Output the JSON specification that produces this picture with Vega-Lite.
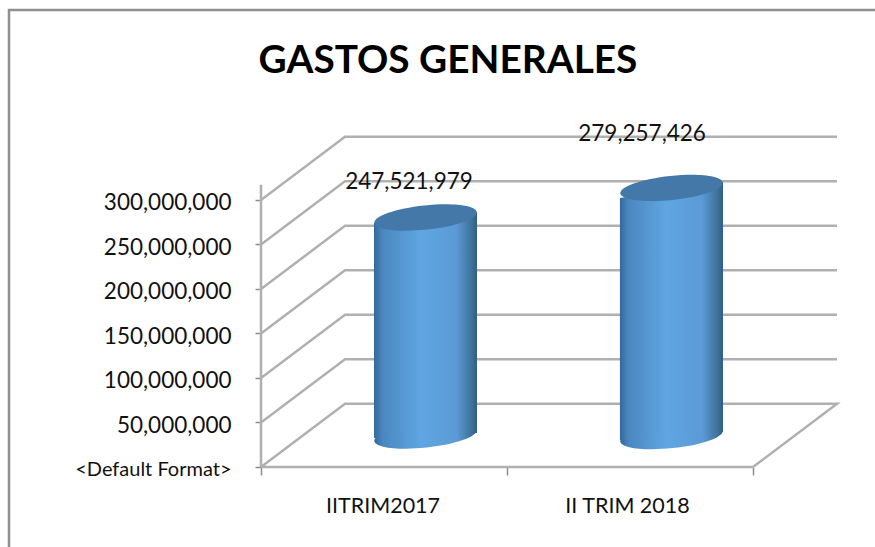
{
"$schema":"https://vega.github.io/schema/vega-lite/v6.json",
"width":866,"height":537,
"autosize":{"type":"none"},
"padding":{"left":9,"top":10,"right":0,"bottom":0},
"background":"white",
"view":{"stroke":null},
"config":{"font":"Lato"},
"title":{"text":"GASTOS GENERALES","font":"Lato","fontSize":38.8,"fontWeight":"bold","color":"#000000","anchor":"middle","frame":"group","dx":6,"offset":-76},
"encoding":{
"x":{"field":"pos","type":"quantitative","scale":{"domain":[-1.02439,2.49593],"nice":false,"zero":false},"axis":{"title":null,"values":[0,1,2],"labels":false,"domain":false,"grid":false,"orient":"bottom","offset":-80,"tickSize":8,"tickColor":"#8c8c8c","tickWidth":1.5}},
"y":{"field":"amount","type":"quantitative","scale":{"domain":[-89888000,513483000],"nice":false,"zero":false},"axis":{"title":null,"values":[0,50000000,100000000,150000000,200000000,250000000,300000000],"labelExpr":"datum.value===0?'<Default Format>':format(datum.value,',d')","domain":false,"grid":false,"orient":"left","offset":-252,"tickSize":6,"tickColor":"#8c8c8c","tickWidth":1.5,"labelPadding":24,"labelFont":"Lato","labelFontSize":{"condition":{"test":"datum.value===0","value":20},"value":22.5},"labelOffset":3,"labelColor":"#111111"}}
},
"layer":[
{"data":{"values":[
{"line":"border","seq":1,"pos":-1.02439,"amount":-89888000},{"line":"border","seq":2,"pos":-1.02439,"amount":513483000},{"line":"border","seq":3,"pos":2.49593,"amount":513483000}
]},"mark":{"type":"line","color":"#8f8f8f","strokeWidth":2.5},"encoding":{"detail":{"field":"line"},"order":{"field":"seq"}}},
{"data":{"values":[
{"line":"g0","seq":1,"pos":0,"amount":0},{"line":"g0","seq":2,"pos":0.3415,"amount":71000000},{"line":"g0","seq":3,"pos":2.3415,"amount":71000000},{"line":"g0","seq":4,"pos":2,"amount":0},{"line":"g0","seq":5,"pos":0,"amount":0},
{"line":"g1","seq":1,"pos":0,"amount":50000000},{"line":"g1","seq":2,"pos":0.3415,"amount":121000000},{"line":"g1","seq":3,"pos":2.3415,"amount":121000000},
{"line":"g2","seq":1,"pos":0,"amount":100000000},{"line":"g2","seq":2,"pos":0.3415,"amount":171000000},{"line":"g2","seq":3,"pos":2.3415,"amount":171000000},
{"line":"g3","seq":1,"pos":0,"amount":150000000},{"line":"g3","seq":2,"pos":0.3415,"amount":221000000},{"line":"g3","seq":3,"pos":2.3415,"amount":221000000},
{"line":"g4","seq":1,"pos":0,"amount":200000000},{"line":"g4","seq":2,"pos":0.3415,"amount":271000000},{"line":"g4","seq":3,"pos":2.3415,"amount":271000000},
{"line":"g5","seq":1,"pos":0,"amount":250000000},{"line":"g5","seq":2,"pos":0.3415,"amount":321000000},{"line":"g5","seq":3,"pos":2.3415,"amount":321000000},
{"line":"g6","seq":1,"pos":0,"amount":300000000},{"line":"g6","seq":2,"pos":0.3415,"amount":371000000},{"line":"g6","seq":3,"pos":2.3415,"amount":371000000},
{"line":"wall","seq":1,"pos":0,"amount":0},{"line":"wall","seq":2,"pos":0,"amount":317000000}
]},"mark":{"type":"line","color":"#b0b0b0","strokeWidth":2.5},"encoding":{"detail":{"field":"line"},"order":{"field":"seq"}}},
{"data":{"values":[
{"category":"IITRIM2017","pos":0.6687,"amount":35400000},{"category":"II TRIM 2018","pos":1.6687,"amount":34800000}
]},"mark":{"type":"point","filled":true,"opacity":1,"size":10609,"angle":-6,"shape":"M-1,0 A1,0.235 0 1 0 1,0 A1,0.235 0 1 0 -1,0 Z","fill":{"x1":0,"y1":0,"x2":1,"y2":0,"gradient":"linear","stops":[{"offset":0,"color":"#33689c"},{"offset":0.08,"color":"#4a87c0"},{"offset":0.45,"color":"#5fa6e3"},{"offset":0.8,"color":"#5b9ad6"},{"offset":0.95,"color":"#3f7098"},{"offset":1,"color":"#2f5c88"}]}}},
{"data":{"values":[
{"category":"IITRIM2017","pos":0.4593,"amount":274200000,"base":32600000},{"category":"IITRIM2017","pos":0.878,"amount":286500000,"base":38200000},
{"category":"II TRIM 2018","pos":1.459,"amount":302200000,"base":30300000},{"category":"II TRIM 2018","pos":1.878,"amount":320200000,"base":39300000}
]},"mark":{"type":"area","opacity":1,"fill":{"x1":0,"y1":0,"x2":1,"y2":0,"gradient":"linear","stops":[{"offset":0,"color":"#33689c"},{"offset":0.08,"color":"#4a87c0"},{"offset":0.45,"color":"#5fa6e3"},{"offset":0.8,"color":"#5b9ad6"},{"offset":0.95,"color":"#3f7098"},{"offset":1,"color":"#2f5c88"}]}},"encoding":{"y2":{"field":"base"},"detail":{"field":"category"}}},
{"data":{"values":[
{"category":"IITRIM2017","pos":0.6687,"amount":280300000},{"category":"II TRIM 2018","pos":1.6687,"amount":313500000}
]},"mark":{"type":"point","filled":true,"opacity":1,"size":10609,"angle":-6,"shape":"M-1,0 A1,0.235 0 1 0 1,0 A1,0.235 0 1 0 -1,0 Z","fill":"#4378a8"}},
{"data":{"values":[
{"value":247521979,"pos":0.6016,"amount":320000000},{"value":279257426,"pos":1.549,"amount":374160000}
]},"mark":{"type":"text","font":"Lato","fontSize":22.5,"color":"#111111","align":"center","baseline":"middle"},"encoding":{"text":{"field":"value","type":"quantitative","format":",d"}}},
{"data":{"values":[
{"label":"IITRIM2017","pos":0.496,"amount":-45000000},{"label":"II TRIM 2018","pos":1.49,"amount":-45000000}
]},"mark":{"type":"text","font":"Lato","fontSize":21.5,"color":"#111111","align":"center","baseline":"middle"},"encoding":{"text":{"field":"label"}}}
]
}
